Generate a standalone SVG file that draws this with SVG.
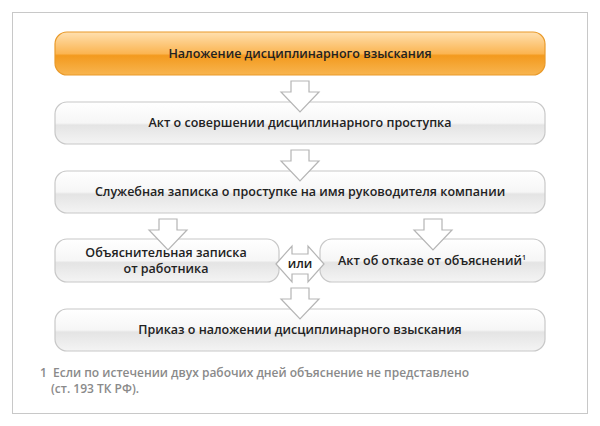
<svg xmlns="http://www.w3.org/2000/svg" width="600" height="426" viewBox="0 0 600 426">
<defs>
<linearGradient id="gg" x1="0" y1="0" x2="0" y2="1">
<stop offset="0" stop-color="#ffffff"/><stop offset="0.5" stop-color="#f6f6f6"/><stop offset="0.55" stop-color="#e4e4e4"/><stop offset="1" stop-color="#f4f4f4"/>
</linearGradient>
<linearGradient id="og" x1="0" y1="0" x2="0" y2="1">
<stop offset="0" stop-color="#ffe0b0"/><stop offset="0.5" stop-color="#fbb552"/><stop offset="0.55" stop-color="#f39a1e"/><stop offset="1" stop-color="#f8b550"/>
</linearGradient>
<style>
.b{fill:url(#gg);stroke:#c8c8c8;stroke-width:1.2}
.o{fill:url(#og);stroke:#e99a2a;stroke-width:1.2}
.t{font-family:"Open Sans","Liberation Sans",sans-serif;font-size:12.5px;font-weight:600;fill:#222;text-anchor:middle}
.a{fill:#fff;stroke:#b5b5b5;stroke-width:1.2}
.f{font-family:"Open Sans","Liberation Sans",sans-serif;font-size:12px;font-weight:600;fill:#8a8a8a}
</style>
</defs>
<rect x="0" y="0" width="600" height="426" fill="#fff"/>
<rect x="12.5" y="12.5" width="575" height="401" fill="#fff" stroke="#c8c8c8"/>
<g id="n1"><rect class="o" x="55" y="32" width="490" height="43" rx="12"/><text class="t" x="300" y="58">Наложение дисциплинарного взыскания</text></g>
<g id="n2"><rect class="b" x="55" y="102" width="490" height="42" rx="12"/><text class="t" x="300" y="127">Акт о совершении дисциплинарного проступка</text></g>
<g id="n3"><rect class="b" x="55" y="171" width="490" height="42" rx="12"/><text class="t" x="300" y="196">Служебная записка о проступке на имя руководителя компании</text></g>
<g id="n4"><rect class="b" x="55" y="239" width="224" height="43" rx="12"/><text class="t" x="166" y="257">Объяснительная записка</text><text class="t" x="166" y="273">от работника</text></g>
<g id="n5"><rect class="b" x="320" y="239" width="225" height="43" rx="12"/><text class="t" x="432" y="265">Акт об отказе от объяснений<tspan font-size="7" dy="-5">1</tspan></text></g>
<g id="n6"><rect class="b" x="55" y="309" width="490" height="42" rx="12"/><text class="t" x="300" y="334">Приказ о наложении дисциплинарного взыскания</text></g>
<g id="connectors">
<path class="a" d="M291,81 h18 v11 h10 l-19,20 l-19,-20 h10 z"/>
<path class="a" d="M291,150 h18 v11 h10 l-19,20 l-19,-20 h10 z"/>
<path class="a" d="M159,219 h18 v11 h10 l-19,20 l-19,-20 h10 z"/>
<path class="a" d="M424,219 h18 v11 h10 l-19,20 l-19,-20 h10 z"/>
<path class="a" d="M291,288 h18 v11 h10 l-19,20 l-19,-20 h10 z"/>
<path class="a" d="M276,264 l16,-18 v8 h16 v-8 l16,18 l-16,18 v-8 h-16 v8 z"/>
<text class="t" x="300" y="268">или</text>
</g>
<text class="f" x="40" y="377">1</text>
<text class="f" x="53" y="377">Если по истечении двух рабочих дней объяснение не представлено</text>
<text class="f" x="51" y="393">(ст. 193 ТК РФ).</text>
</svg>
